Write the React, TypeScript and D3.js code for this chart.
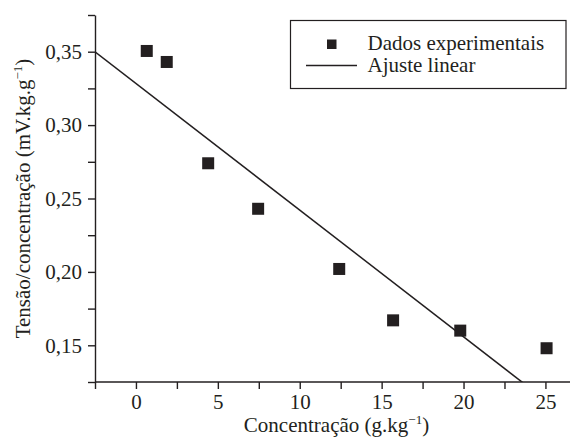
import { useEffect, useRef } from 'react';
import * as d3 from 'd3';

// measured values (concentration g/kg, tension/concentration mV.kg/g)
const concentration = [0.66, 1.88, 4.41, 7.46, 12.41, 15.7, 19.8, 25.07];
const tensionRatio = [0.3505, 0.343, 0.274, 0.243, 0.202, 0.167, 0.16, 0.148];

// linear fit y = a + b*x
const fitIntercept = 0.3284;
const fitSlope = -0.00863;

const xTickValues = d3.range(-2.5, 25.01, 2.5);
const yTickValues = d3.range(0.125, 0.3751, 0.025);
const xLabelled = [0, 5, 10, 15, 20, 25];
const yLabelled = [0.15, 0.2, 0.25, 0.3, 0.35];

const legendLabels = ['Dados experimentais', 'Ajuste linear'];

const INK = '#231f20';
const FONT = 'Liberation Serif, Times New Roman, serif';

export default function App() {
  const svgRef = useRef<SVGSVGElement>(null);
  const width = 571;
  const height = 439;
  const margin = { top: 15, right: 1, bottom: 57, left: 95 };

  useEffect(() => {
    if (!svgRef.current) return;
    const svg = d3.select(svgRef.current);
    svg.selectAll('*').remove();

    const innerW = width - margin.left - margin.right;
    const innerH = height - margin.top - margin.bottom;

    const x = d3.scaleLinear().domain([-2.5, 26.5]).range([0, innerW]);
    const y = d3.scaleLinear().domain([0.125, 0.375]).range([innerH, 0]);

    const comma = (v: number, digits: number) => v.toFixed(digits).replace('.', ',');
    const near = (v: number, list: number[]) => list.some((l) => Math.abs(l - v) < 1e-6);

    svg
      .append('defs')
      .append('clipPath')
      .attr('id', 'plotClip')
      .append('rect')
      .attr('width', innerW)
      .attr('height', innerH);

    const g = svg.append('g').attr('transform', `translate(${margin.left},${margin.top})`);

    // Axes
    const xAxis = g
      .append('g')
      .attr('class', 'axis')
      .attr('transform', `translate(0,${innerH})`)
      .call(
        d3
          .axisBottom(x)
          .tickValues(xTickValues)
          .tickSize(7)
          .tickPadding(5)
          .tickSizeOuter(0)
          .tickFormat((d) => (near(d as number, xLabelled) ? comma(d as number, 0) : ''))
      );

    const yAxis = g
      .append('g')
      .attr('class', 'axis')
      .call(
        d3
          .axisLeft(y)
          .tickValues(yTickValues)
          .tickSize(7)
          .tickPadding(6)
          .tickSizeOuter(0)
          .tickFormat((d) => (near(d as number, yLabelled) ? comma(d as number, 2) : ''))
      );

    [xAxis, yAxis].forEach((ax) => {
      ax.attr('font-family', null);
      ax.select('.domain').attr('stroke', INK).attr('stroke-width', 1.4);
      ax.selectAll('.tick line').attr('stroke', INK).attr('stroke-width', 1.4);
      ax.selectAll('.tick text')
        .attr('fill', INK)
        .style('font-family', FONT)
        .style('font-size', '21px');
    });
    // the x axis line needs to reach the left corner
    xAxis.select('.domain').attr('d', `M0,0H${innerW}`);

    // Linear fit
    const fitLine = d3
      .line<number>()
      .x((d) => x(d))
      .y((d) => y(fitIntercept + fitSlope * d));

    g.append('path')
      .datum(x.domain())
      .attr('clip-path', 'url(#plotClip)')
      .attr('fill', 'none')
      .attr('stroke', INK)
      .attr('stroke-width', 1.5)
      .attr('d', fitLine);

    // Experimental points
    const size = 12;
    g.selectAll('.pt')
      .data(concentration)
      .enter()
      .append('rect')
      .attr('class', 'pt')
      .attr('x', (d) => x(d) - size / 2)
      .attr('y', (_d, i) => y(tensionRatio[i]) - size / 2)
      .attr('width', size)
      .attr('height', size)
      .attr('fill', INK);

    // Axis titles
    const xTitle = svg
      .append('text')
      .attr('x', margin.left + innerW / 2 + 4)
      .attr('y', 432)
      .attr('text-anchor', 'middle')
      .style('font-family', FONT)
      .style('font-size', '21px')
      .attr('fill', INK);
    xTitle.append('tspan').text('Concentração (g.kg');
    xTitle.append('tspan').attr('dy', -8).style('font-size', '13px').text('−1');
    xTitle.append('tspan').attr('dy', 8).text(')');

    const yTitle = svg
      .append('text')
      .attr('transform', `translate(30,${margin.top + innerH / 2}) rotate(-90)`)
      .attr('text-anchor', 'middle')
      .style('font-family', FONT)
      .style('font-size', '21px')
      .attr('fill', INK);
    yTitle.append('tspan').text('Tensão/concentração (mV.kg.g');
    yTitle.append('tspan').attr('dy', -8).style('font-size', '13px').text('−1');
    yTitle.append('tspan').attr('dy', 8).text(')');

    // Legend
    const legend = svg.append('g');
    legend
      .append('rect')
      .attr('x', 290.5)
      .attr('y', 20.5)
      .attr('width', 275.5)
      .attr('height', 68)
      .attr('fill', '#fff')
      .attr('stroke', INK)
      .attr('stroke-width', 1.2);
    legend
      .append('rect')
      .attr('x', 327)
      .attr('y', 39.5)
      .attr('width', 9.5)
      .attr('height', 9.5)
      .attr('fill', INK);
    legend
      .append('line')
      .attr('x1', 306)
      .attr('x2', 357)
      .attr('y1', 65.5)
      .attr('y2', 65.5)
      .attr('stroke', INK)
      .attr('stroke-width', 1.3);
    legend
      .selectAll('.lbl')
      .data(legendLabels)
      .enter()
      .append('text')
      .attr('class', 'lbl')
      .attr('x', 367.5)
      .attr('y', (_d, i) => 50 + i * 22)
      .style('font-family', FONT)
      .style('font-size', '21px')
      .attr('fill', INK)
      .text((d) => d);
  }, []);

  return (
    <div style={{ position: 'absolute', left: 0, top: 0 }}>
      <svg ref={svgRef} width={width} height={height} style={{ display: 'block', background: '#fff' }} />
    </div>
  );
}
